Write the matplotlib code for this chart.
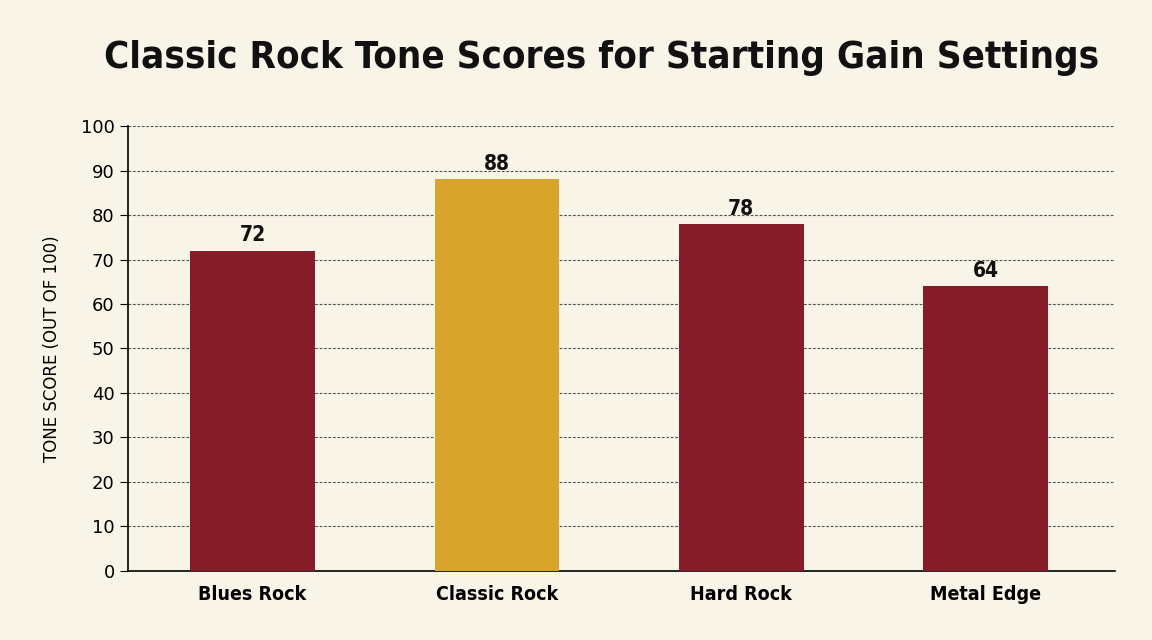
import matplotlib
matplotlib.use("Agg")
import matplotlib.pyplot as plt

categories = ["Blues Rock", "Classic Rock", "Hard Rock", "Metal Edge"]
scores = [72, 88, 78, 64]
colors = ["#861B29", "#D9A42C", "#861B29", "#861B29"]
yticks = [0, 10, 20, 30, 40, 50, 60, 70, 80, 90, 100]

bg = "#F8F4E8"
fig = plt.figure(figsize=(11.52, 6.4), dpi=100, facecolor=bg)
ax = fig.add_axes([0.111, 0.108, 0.857, 0.695], facecolor=bg)

x = range(len(categories))
ax.bar(x, scores, width=0.51, color=colors, zorder=3)
for xi, v in zip(x, scores):
    ax.text(xi, v + 1.2, str(v), ha="center", va="bottom", fontsize=15,
            fontweight="bold", fontstretch="condensed", family="DejaVu Sans", color="#111")

ax.set_xlim(-0.51, 3.53)
ax.set_ylim(0, 100)
ax.set_yticks(yticks)
ax.set_xticks(list(x))
ax.set_xticklabels(categories, fontsize=14, fontweight="bold", fontstretch="condensed")
ax.tick_params(axis="y", labelsize=13, length=6)
ax.tick_params(axis="x", length=0, pad=10)
ax.yaxis.grid(True, linestyle=(0, (2.5, 1.5)), color="#555", linewidth=0.8, zorder=0)
for s in ["top", "right"]:
    ax.spines[s].set_visible(False)
ax.spines["left"].set_linewidth(1.2)
ax.spines["bottom"].set_linewidth(1.2)
ax.set_ylabel("TONE SCORE (OUT OF 100)", fontsize=12, labelpad=14)

fig.text(0.522, 0.91, "Classic Rock Tone Scores for Starting Gain Settings",
         ha="center", va="center", fontsize=27.5, fontweight="bold",
         fontstretch="condensed", family="DejaVu Sans", color="#111")

fig.savefig("out.png", dpi=100, facecolor=bg)
